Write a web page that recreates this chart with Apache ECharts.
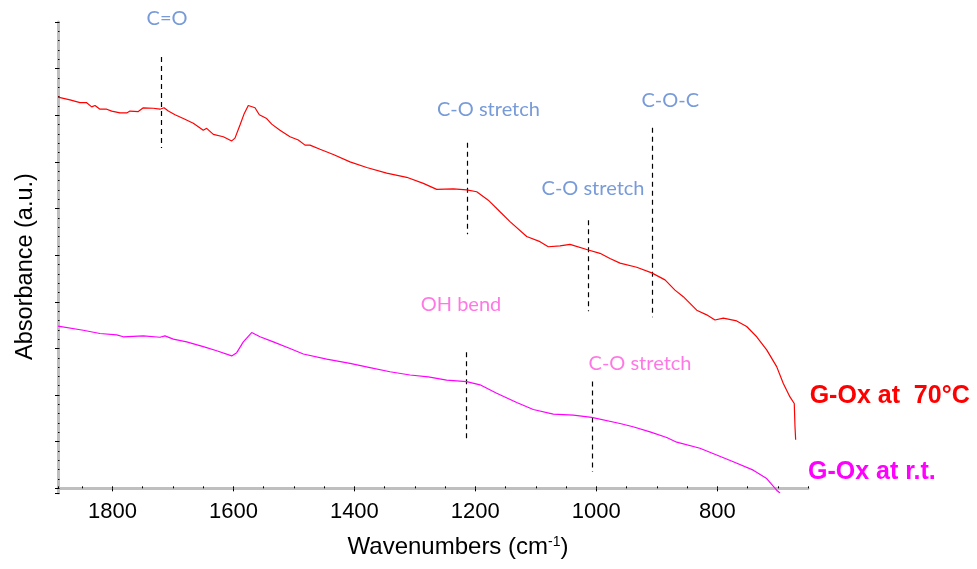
<!DOCTYPE html>
<html><head><meta charset="utf-8">
<script src="https://cdn.jsdelivr.net/npm/echarts@6/dist/echarts.min.js"></script>
<style>html,body{margin:0;padding:0;background:#fff}#c{width:977px;height:569px}</style>
</head><body><div id="c"></div>
<script>
// G-Ox at 70°C (red)
const wavenumbers70 = [1890,1886.7,1870.2,1853.6,1842.6,1834.3,1828.8,1820.6,1809.5,1801.2,
  1787.5,1776.4,1771.0,1757.2,1749.0,1732.4,1721.4,1714.7,1707.6,1696.5,
  1682.8,1666.3,1649.8,1644.2,1633.2,1616.7,1602.8,1597.4,1589.1,1582.0,
  1575.4,1564.3,1557.2,1545.0,1536.7,1523.0,1506.4,1492.7,1481.6,1473.4,
  1456.8,1434.8,1407.2,1379.6,1346.6,1313.5,1286.0,1263.9,1236.4,1214.3,
  1197.7,1178.6,1159.2,1142.7,1115.1,1093.1,1079.4,1060.0,1043.5,1013.2,
  993.9,977.4,960.8,933.2,908.4,886.4,869.9,856.2,834.0,817.5,
  803.8,790.0,767.9,751.4,734.8,718.3,701.8,690.8,679.8,672.7,671.5,670.4];
const absorbance70 = [8.39,8.39,8.33,8.27,8.27,8.18,8.21,8.13,8.13,8.09,
  8.05,8.05,8.09,8.08,8.16,8.15,8.13,8.16,8.09,8.01,
  7.93,7.83,7.68,7.72,7.59,7.54,7.45,7.51,7.79,8.04,
  8.21,8.16,8.01,7.93,7.81,7.68,7.54,7.47,7.36,7.36,
  7.27,7.16,7.00,6.88,6.76,6.67,6.54,6.41,6.42,6.40,
  6.36,6.18,5.93,5.72,5.40,5.29,5.18,5.20,5.23,5.11,
  5.04,4.93,4.83,4.74,4.62,4.47,4.25,4.11,3.82,3.72,
  3.61,3.65,3.59,3.47,3.25,2.97,2.61,2.25,1.96,1.82,1.32,1.04];
// G-Ox at r.t. (magenta)
const wavenumbersRT = [1890,1886.7,1848.2,1820.6,1793.0,1782.0,1749.0,1721.4,1713.1,1699.4,
  1677.3,1649.8,1627.6,1602.8,1594.5,1583.6,1569.8,1556.0,1534.0,1506.4,
  1484.4,1445.8,1407.2,1374.2,1341.1,1308.0,1277.8,1247.4,1214.3,1192.3,
  1164.7,1131.6,1104.2,1071.1,1038.0,1007.6,960.8,939.3,911.2,883.6,
  867.0,828.6,773.5,740.5,718.3,701.8,696.3];
const absorbanceRT = [3.48,3.48,3.39,3.32,3.29,3.25,3.27,3.24,3.27,3.20,
  3.14,3.04,2.95,2.84,2.91,3.14,3.34,3.25,3.14,3.00,
  2.88,2.77,2.68,2.59,2.50,2.43,2.39,2.32,2.29,2.22,
  2.04,1.84,1.69,1.59,1.57,1.52,1.39,1.32,1.21,1.09,
  0.99,0.86,0.57,0.39,0.21,-0.04,-0.10];

const seriesNames = ['G-Ox at  70°C', 'G-Ox at r.t.'];
const xTickLabels = [800, 1000, 1200, 1400, 1600, 1800];

// peak assignments (dashed markers)
const annotationNames = ['C=O', 'C-O stretch', 'C-O stretch', 'C-O-C', 'OH bend', 'C-O stretch'];
const annotationX = [1719.7, 1213.0, 1012.9, 906.8, 1214.6, 1007.1];
const annotationTop = [9.25, 7.41, 5.75, 7.73, 2.92, 2.29];
const annotationBottom = [7.30, 5.45, 3.80, 3.67, 0.99, 0.35];

// styling (not data)
const annotationColors = ['#5581cf','#5581cf','#5581cf','#5581cf','#ff55dd','#ff55dd'];
const annotationOffsets = [[6,-38],[21,-33],[4.5,-32],[17.6,-27],[-5.5,-48],[48,-18]];

const zip = (a, b) => a.map((v, i) => [v, b[i]]);
const chart = echarts.init(document.getElementById('c'), null, {renderer: 'canvas'});
const AX = '#bfbfbf';
const FONT = '"Liberation Sans", Arial, sans-serif';
const ANN_FONT = 'Lato, "Open Sans", sans-serif';

chart.setOption({
  animation: false,
  backgroundColor: '#ffffff',
  grid: {left: 58, right: 169, top: 22, bottom: 76, containLabel: false},
  xAxis: [{
    type: 'value', min: 650, max: 1890, inverse: true,
    minInterval: 200, maxInterval: 200,
    axisLine: {show: true, lineStyle: {color: AX, width: 3}},
    axisTick: {show: true, inside: false, length: 3, lineStyle: {color: '#000', width: 1}},
    splitLine: {show: false},
    axisLabel: {
      show: true, fontSize: 22, color: '#000', fontFamily: FONT, margin: 8,
      showMinLabel: false, showMaxLabel: false,
      formatter: v => xTickLabels.includes(Math.round(v)) ? String(Math.round(v)) : ''
    },
    name: 'Wavenumbers (cm{sup|-1})',
    nameLocation: 'middle', nameGap: 42,
    nameTextStyle: {
      fontSize: 24, color: '#000', fontFamily: FONT, padding: [0, 0, 0, 50],
      rich: {sup: {fontSize: 14, color: '#000', fontFamily: FONT, verticalAlign: 'top', padding: [0, 0, 10, 0]}}
    }
  }, {
    type: 'value', min: 650, max: 1890, inverse: true, position: 'bottom',
    minInterval: 50, maxInterval: 50,
    axisLine: {show: false},
    axisTick: {show: true, inside: true, length: 2, lineStyle: {color: '#000', width: 1}},
    axisLabel: {show: false}, splitLine: {show: false}
  }],
  yAxis: [{
    type: 'value', min: -0.1, max: 10,
    minInterval: 1, maxInterval: 1,
    axisLine: {show: true, lineStyle: {color: AX, width: 3}},
    axisTick: {show: true, inside: false, length: 3, lineStyle: {color: '#000', width: 1}},
    axisLabel: {show: false}, splitLine: {show: false},
    name: 'Absorbance (a.u.)', nameLocation: 'middle', nameGap: 20, nameRotate: 90,
    nameTextStyle: {fontSize: 23.5, color: '#000', fontFamily: FONT, padding: [0, 18, 0, 0]}
  }, {
    type: 'value', min: -0.1, max: 10, position: 'left',
    minInterval: 0.2, maxInterval: 0.2,
    axisLine: {show: false},
    axisTick: {show: true, inside: true, length: 1.5, lineStyle: {color: '#000', width: 1}},
    axisLabel: {show: false}, splitLine: {show: false}
  }],
  series: [{
    name: seriesNames[0], type: 'line', xAxisIndex: 0, yAxisIndex: 0,
    data: zip(wavenumbers70, absorbance70),
    showSymbol: false, symbol: 'none', silent: true,
    lineStyle: {color: '#ff0000', width: 1.2},
    endLabel: {show: true, formatter: seriesNames[0], align: 'left', verticalAlign: 'middle',
      distance: 0, offset: [14, -44], color: '#ff0000', fontSize: 25, fontWeight: 'bold', fontFamily: FONT}
  }, {
    name: seriesNames[1], type: 'line', xAxisIndex: 0, yAxisIndex: 0,
    data: zip(wavenumbersRT, absorbanceRT),
    showSymbol: false, symbol: 'none', silent: true,
    lineStyle: {color: '#ff00ff', width: 1.2},
    endLabel: {show: true, formatter: seriesNames[1], align: 'left', verticalAlign: 'middle',
      distance: 0, offset: [28, -21], color: '#ff00ff', fontSize: 25, fontWeight: 'bold', fontFamily: FONT}
  }, {
    type: 'lines', coordinateSystem: 'cartesian2d', xAxisIndex: 0, yAxisIndex: 0, silent: true,
    data: annotationX.map((x, i) => ({coords: [[x, annotationTop[i]], [x, annotationBottom[i]]]})),
    lineStyle: {color: '#000', width: 1.2, type: [5, 4], opacity: 1}
  }, {
    type: 'scatter', xAxisIndex: 0, yAxisIndex: 0, silent: true, symbolSize: 0,
    data: annotationX.map((x, i) => ({
      name: annotationNames[i], value: [x, annotationTop[i]],
      label: {color: annotationColors[i], offset: annotationOffsets[i]}
    })),
    label: {show: true, position: 'inside', formatter: '{b}', fontSize: 20, fontFamily: ANN_FONT}
  }]
});
</script></body></html>
